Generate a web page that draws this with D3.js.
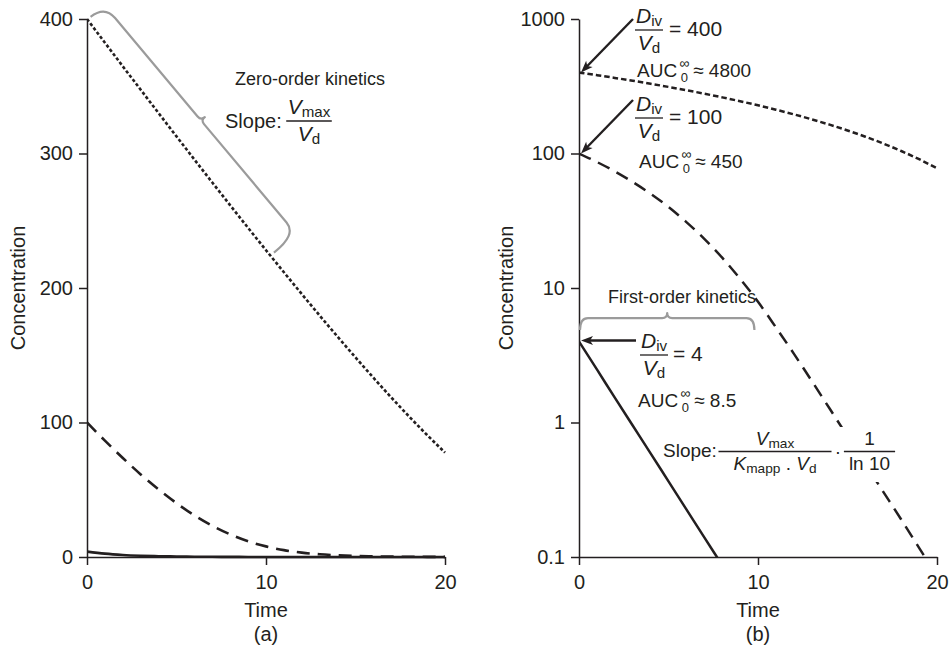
<!DOCTYPE html>
<html>
<head>
<meta charset="utf-8">
<script src="https://cdn.jsdelivr.net/npm/d3@7"></script>
<style>
  body { margin: 0; background: #fff; }
  svg text { font-family: "Liberation Sans", Arial, Helvetica, sans-serif; fill: #231f20; }
</style>
</head>
<body>
<svg id="chart" width="952" height="650"></svg>
<script>
// Time points (same sampling for every curve)
const times = [0, 1, 2, 3, 4, 5, 6, 7, 8, 9, 10, 11, 12, 13, 14, 15, 16, 17, 18, 19, 20];

// Plasma concentration after an i.v. bolus, Michaelis–Menten elimination
const doseHigh = [400, 382.4, 364.8, 347.4, 330.0, 312.7, 295.5, 278.4, 261.5, 244.7, 228.1,
                  211.7, 195.5, 179.5, 163.8, 148.4, 133.3, 118.6, 104.4, 90.7, 77.6];   // D/V = 400
const doseMid  = [100, 86.5, 73.6, 61.4, 50.2, 40.0, 30.9, 23.2, 16.8, 11.7, 7.9,
                  5.1, 3.25, 2.04, 1.27, 0.79, 0.49, 0.305, 0.19, 0.117, 0.072];         // D/V = 100
const doseLow  = [4, 2.48, 1.53, 0.95, 0.59, 0.365, 0.226, 0.14, 0.087, 0.054, 0.033,
                  0.021, 0.013, 0.008, 0.005, 0.003, 0.002, 0.0012, 0.0008, 0.0005, 0.0003]; // D/V = 4

const timeTicks = [0, 10, 20];
const linTicks = [0, 100, 200, 300, 400];
const logTicks = [0.1, 1, 10, 100, 1000];
const logTickLabels = ["0.1", "1", "10", "100", "1000"];

const ink = "#231f20";
const gray = "#9b9b9b";

const svg = d3.select("#chart");

// ---------- scales ----------
const xL = d3.scaleLinear().domain([0, 20]).range([87, 445]);
const yL = d3.scaleLinear().domain([0, 400]).range([557, 19]);
const xR = d3.scaleLinear().domain([0, 20]).range([579, 937]);
const yR = d3.scaleLog().domain([0.1, 1000]).range([557, 19]);

// ---------- clip regions ----------
const defs = svg.append("defs");
defs.append("clipPath").attr("id", "clipL").append("rect")
  .attr("x", xL(0)).attr("y", 0).attr("width", xL(20) - xL(0) + 4).attr("height", yL(0) + 2);
defs.append("clipPath").attr("id", "clipR").append("rect")
  .attr("x", xR(0)).attr("y", 0).attr("width", xR(20) - xR(0) + 4).attr("height", yR(0.1) + 1);

// ---------- axes ----------
function styleAxis(g) {
  g.attr("font-size", 20).attr("font-family", null);
  g.select(".domain").attr("stroke", ink).attr("stroke-width", 1.5);
  g.selectAll(".tick line").attr("stroke", ink).attr("stroke-width", 1.5);
  g.selectAll(".tick text").attr("fill", ink);
}

svg.append("g").attr("transform", `translate(0,${yL(0)})`)
  .call(d3.axisBottom(xL).tickValues(timeTicks).tickSize(8).tickSizeOuter(0).tickPadding(10))
  .call(styleAxis);
svg.append("g").attr("transform", `translate(${xL(0)},0)`)
  .call(d3.axisLeft(yL).tickValues(linTicks).tickSize(8).tickSizeOuter(0).tickPadding(6))
  .call(styleAxis);

svg.append("g").attr("transform", `translate(0,${yR(0.1)})`)
  .call(d3.axisBottom(xR).tickValues(timeTicks).tickSize(8).tickSizeOuter(0).tickPadding(10))
  .call(styleAxis);
svg.append("g").attr("transform", `translate(${xR(0)},0)`)
  .call(d3.axisLeft(yR).tickValues(logTicks).tickFormat((d, i) => logTickLabels[i])
        .tickSize(8).tickSizeOuter(0).tickPadding(6))
  .call(styleAxis);

// axis titles
function label(x, y, txt, rot) {
  const t = svg.append("text").attr("font-size", 20).attr("text-anchor", "middle").text(txt);
  if (rot) t.attr("transform", `translate(${x},${y}) rotate(-90)`);
  else t.attr("x", x).attr("y", y);
}
label(25, 288, "Concentration", true);
label(513, 288, "Concentration", true);
label(xL(10), 617, "Time");
label(xR(10), 617, "Time");
label(xL(10), 641, "(a)");
label(xR(10), 641, "(b)");

// ---------- curves ----------
const curves = [
  { values: doseHigh, dashL: "3.2,2.2", dashR: "5.5,3" },
  { values: doseMid,  dashL: "13,8",    dashR: "13,8" },
  { values: doseLow,  dashL: null,      dashR: null }
];

const lineL = d3.line().x((d, i) => xL(times[i])).y(d => yL(d)).curve(d3.curveMonotoneX);
const lineR = d3.line().x((d, i) => xR(times[i])).y(d => yR(d)).curve(d3.curveMonotoneX);

const gL = svg.append("g").attr("clip-path", "url(#clipL)");
const gR = svg.append("g").attr("clip-path", "url(#clipR)");
curves.forEach(c => {
  gL.append("path").attr("d", lineL(c.values)).attr("fill", "none")
    .attr("stroke", ink).attr("stroke-width", 2.6).attr("stroke-dasharray", c.dashL);
  gR.append("path").attr("d", lineR(c.values)).attr("fill", "none")
    .attr("stroke", ink).attr("stroke-width", 2.5).attr("stroke-dasharray", c.dashR);
});

// ---------- annotation helpers ----------
const ann = svg.append("g");

// text built from parts: {t, i: italic, sub: subscript}
function rich(g, x, y, parts, fs, anchor) {
  const t = g.append("text").attr("x", x).attr("y", y).attr("font-size", fs)
    .attr("text-anchor", anchor || "start");
  let shift = 0;
  parts.forEach(p => {
    const s = t.append("tspan").text(p.t);
    if (p.i) s.attr("font-style", "italic");
    const want = p.sub ? 3 : 0;
    if (want !== shift) { s.attr("dy", want - shift); shift = want; }
    if (p.sub) s.attr("font-size", fs * 0.72);
  });
  return t;
}

function frac(g, cx, by, num, den, fs, pad) {
  const a = rich(g, cx, by - 7, num, fs, "middle");
  const b = rich(g, cx, by + fs * 0.97, den, fs, "middle");
  const w = Math.max(a.node().getComputedTextLength(), b.node().getComputedTextLength());
  const p = pad == null ? 1.5 : pad;
  g.append("line").attr("x1", cx - w / 2 - p).attr("x2", cx + w / 2 + p)
    .attr("y1", by).attr("y2", by).attr("stroke", ink).attr("stroke-width", 1.3);
  return cx + w / 2 + p;
}

function arrow(g, x1, y1, x2, y2) {
  const dx = x2 - x1, dy = y2 - y1, len = Math.hypot(dx, dy);
  const ux = dx / len, uy = dy / len;
  const bx = x2 - ux * 12, by = y2 - uy * 12;
  g.append("line").attr("x1", x1).attr("y1", y1).attr("x2", x2 - ux * 8).attr("y2", y2 - uy * 8)
    .attr("stroke", ink).attr("stroke-width", 2.4);
  g.append("path")
    .attr("d", `M${x2},${y2}L${bx - uy * 4.5},${by + ux * 4.5}L${x2 - ux * 9},${y2 - uy * 9}L${bx + uy * 4.5},${by - ux * 4.5}Z`)
    .attr("fill", ink);
}

// curly brace between two points, bulging to the left of the direction p0 -> p1;
// h0 / h1 are the heights of the brace body at its two ends
function brace(g, p0, p1, h0, h1, r, c) {
  const dx = p1[0] - p0[0], dy = p1[1] - p0[1];
  const L = Math.hypot(dx, dy), ang = Math.atan2(dy, dx) * 180 / Math.PI;
  const m = L / 2, hm = (h0 + h1) / 2;
  const hAt = u => h0 + (h1 - h0) * u / L;
  const d = `M0,-2 Q0,${-h0} ${r},${-hAt(r)} L${m - c},${-hAt(m - c)} Q${m},${-hm} ${m},${-hm - c}` +
            ` Q${m},${-hm} ${m + c},${-hAt(m + c)} L${L - r},${-hAt(L - r)} Q${L},${-h1} ${L},-2`;
  g.append("path").attr("d", d).attr("fill", "none").attr("stroke", gray)
    .attr("stroke-width", 2.2).attr("stroke-linejoin", "round")
    .attr("transform", `translate(${p0[0]},${p0[1]}) rotate(${ang})`);
}

function auc(g, x, y, value) {
  const t = g.append("text").attr("x", x).attr("y", y).attr("font-size", 19).text("AUC");
  const w = t.node().getComputedTextLength();
  g.append("text").attr("x", x + w + 2).attr("y", y - 9).attr("font-size", 14).text("\u221E");
  g.append("text").attr("x", x + w + 3.5).attr("y", y + 5).attr("font-size", 13).text("0");
  g.append("text").attr("x", x + w + 16).attr("y", y).attr("font-size", 19).text("\u2248 " + value);
}

const Div = [{ t: "D", i: true }, { t: "iv", sub: true }];
const Vd = [{ t: "V", i: true }, { t: "d", sub: true }];
const Vmax = [{ t: "V", i: true }, { t: "max", sub: true }];

// ---------- panel (a) annotations ----------
const tEnd = 10.3;
const vEnd = doseHigh[10] + (doseHigh[11] - doseHigh[10]) * (tEnd - 10);
brace(ann, [xL(0) + 2, yL(doseHigh[0]) - 1], [xL(tEnd) + 1, yL(vEnd) - 3], 20, 31, 16, 5);

ann.append("text").attr("x", 235).attr("y", 85).attr("font-size", 18).text("Zero-order kinetics");
ann.append("text").attr("x", 225).attr("y", 128).attr("font-size", 20).text("Slope:");
frac(ann, 309, 121, Vmax, Vd, 21, 1.5);

// ---------- panel (b) annotations ----------
arrow(ann, xR(0) + 54, 19, xR(0) + 2, yR(doseHigh[0]));
frac(ann, 649, 30, Div, Vd, 21, 1);
ann.append("text").attr("x", 669).attr("y", 36).attr("font-size", 21).text("= 400");
auc(ann, 637, 77, "4800");

arrow(ann, xR(0) + 54, 100, xR(0) + 2, yR(doseMid[0]));
frac(ann, 649, 118, Div, Vd, 21, 1);
ann.append("text").attr("x", 669).attr("y", 124).attr("font-size", 21).text("= 100");
auc(ann, 639, 168, "450");

// first-order bracket
const yBr = yR(4.7);
brace(ann, [xR(0) + 1, yBr], [xR(9.8), yBr], 14, 14, 8, 5);
ann.append("text").attr("x", 608).attr("y", 303).attr("font-size", 18).text("First-order kinetics");

arrow(ann, xR(0) + 57, yR(doseLow[0]) - 1, xR(0) + 2, yR(doseLow[0]) - 1);
frac(ann, 654, 355, Div, Vd, 21, 1);
ann.append("text").attr("x", 673).attr("y", 361).attr("font-size", 21).text("= 4");
auc(ann, 638, 407, "8.5");

// slope of the log-linear part
ann.append("rect").attr("x", 834).attr("y", 427).attr("width", 62).attr("height", 55).attr("fill", "#fff");
ann.append("text").attr("x", 663).attr("y", 457).attr("font-size", 19).text("Slope:");
frac(ann, 775, 451.5,
  Vmax,
  [{ t: "K", i: true }, { t: "mapp", sub: true }, { t: " . " }, { t: "V", i: true }, { t: "d", sub: true }],
  19, 15);
ann.append("text").attr("x", 838).attr("y", 458).attr("font-size", 19).attr("text-anchor", "middle").text("\u00B7");
frac(ann, 869.5, 451.5, [{ t: "1" }], [{ t: "ln 10" }], 19, 5);
</script>
</body>
</html>
